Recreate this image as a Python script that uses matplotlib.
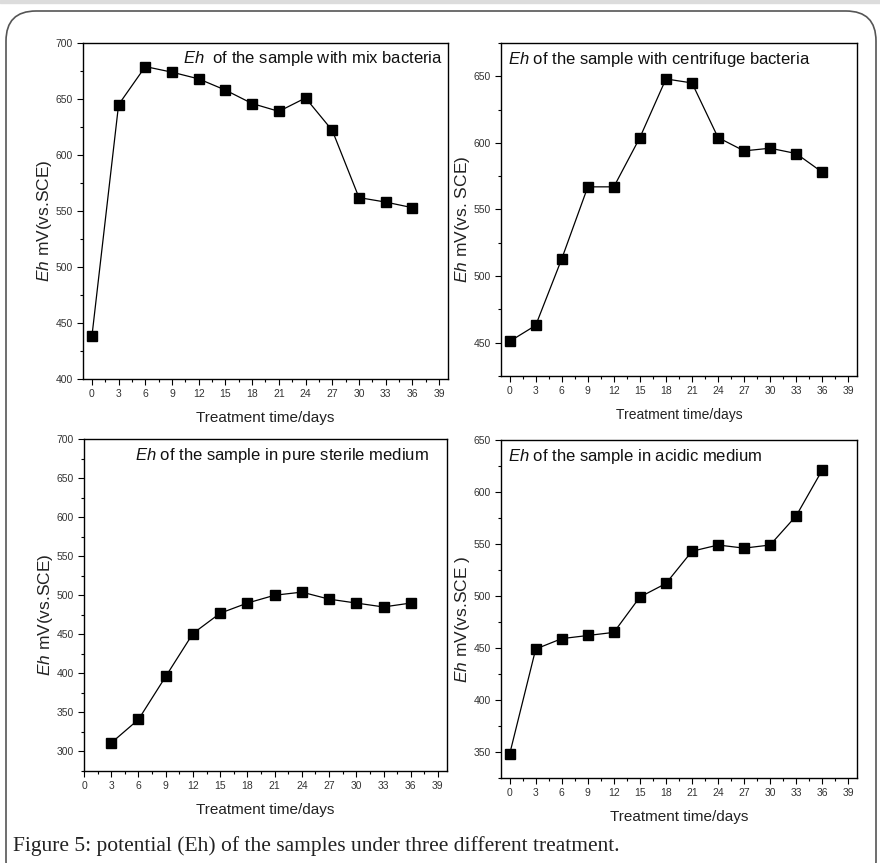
import matplotlib
matplotlib.use('Agg')
import matplotlib.pyplot as plt
from matplotlib.patches import FancyBboxPatch
from matplotlib.ticker import MultipleLocator

plt.rcParams['font.family'] = ['Liberation Sans', 'DejaVu Sans']
plt.rcParams['mathtext.fontset'] = 'custom'
plt.rcParams['mathtext.it'] = 'Liberation Sans:italic'
plt.rcParams['mathtext.rm'] = 'Liberation Sans'

# Data
days_full = [0, 3, 6, 9, 12, 15, 18, 21, 24, 27, 30, 33, 36]
days_sterile = [3, 6, 9, 12, 15, 18, 21, 24, 27, 30, 33, 36]

eh_mix = [438, 645, 679, 674, 668, 658, 646, 639, 651, 622, 562, 558, 553]
eh_centrifuge = [451, 463, 513, 567, 567, 604, 648, 645, 604, 594, 596, 592, 578]
eh_sterile = [311, 341, 396, 451, 477, 490, 500, 504, 495, 490, 485, 490]
eh_acidic = [348, 449, 459, 462, 465, 499, 512, 543, 549, 546, 549, 577, 621]

titles = [r'$\it{Eh}$  of the sample with mix bacteria',
          r'$\it{Eh}$ of the sample with centrifuge bacteria',
          r'$\it{Eh}$ of the sample in pure sterile medium',
          r'$\it{Eh}$ of the sample in acidic medium']
ylabels = [r'$\it{Eh}$ mV(vs.SCE)', r'$\it{Eh}$ mV(vs. SCE)',
           r'$\it{Eh}$ mV(vs.SCE)', r'$\it{Eh}$ mV(vs.SCE )']

fig = plt.figure(figsize=(8.8, 8.63), dpi=100)

# page frame with rounded corners (pixel coordinates)
bg = fig.add_axes([0, 0, 1, 1], zorder=0)
bg.set_xlim(0, 880)
bg.set_ylim(863, 0)
bg.axis('off')
bg.axhspan(0, 3, color='#dcdcdc')
frame = FancyBboxPatch((6, 11), 870, 880, boxstyle='round,pad=0,rounding_size=30',
                       facecolor='white', edgecolor='#555555', linewidth=1.2)
bg.add_patch(frame)
fig.text(13 / 880, 1 - 846 / 863, 'Figure 5: potential (Eh) of the samples under three different treatment.',
         family='Liberation Serif', fontsize=15.5, color='#222222', va='center', ha='left')

# panel positions (left, bottom, width, height)
boxes = [[0.0943, 0.5608, 0.4148, 0.3893],
         [0.5693, 0.5643, 0.4045, 0.3859],
         [0.0955, 0.1066, 0.4125, 0.3847],
         [0.5693, 0.0985, 0.4045, 0.3917]]
series = [(days_full, eh_mix), (days_full, eh_centrifuge),
          (days_sterile, eh_sterile), (days_full, eh_acidic)]
ylims = [(400, 700), (425, 675), (275, 700), (325, 650)]
xlims = [(-1, 40), (-1, 40), (0, 40), (-1, 40)]
title_pos = [(0.985, 0.955, 'right'), (0.02, 0.95, 'left'),
             (0.14, 0.95, 'left'), (0.02, 0.95, 'left')]
xlabel_size = [11, 10, 11, 11]

for i in range(4):
    ax = fig.add_axes(boxes[i], zorder=2)
    x, y = series[i]
    ax.plot(x, y, color='black', linewidth=0.9, marker='s', markersize=6.5)
    ax.set_xlim(*xlims[i])
    ax.set_ylim(*ylims[i])
    ax.xaxis.set_major_locator(MultipleLocator(3))
    ax.xaxis.set_minor_locator(MultipleLocator(1.5))
    ax.yaxis.set_major_locator(MultipleLocator(50))
    ax.yaxis.set_minor_locator(MultipleLocator(25))
    ax.tick_params(which='both', direction='out', labelsize=7.5, labelcolor='#333333', width=0.8)
    ax.tick_params(which='major', length=4)
    ax.tick_params(which='minor', length=2.5)
    for s in ax.spines.values():
        s.set_linewidth(1.0)
    ax.set_xlabel('Treatment time/days', fontsize=xlabel_size[i], color='#222222', labelpad=8)
    ax.set_ylabel(ylabels[i], fontsize=12.5, color='#222222', labelpad=1)
    ax.yaxis.label.set_y(0.47)
    tx, ty, ha = title_pos[i]
    ax.text(tx, ty, titles[i], transform=ax.transAxes, fontsize=12, ha=ha, va='center',
            color='#111111')

fig.savefig('out.png', dpi=100)
